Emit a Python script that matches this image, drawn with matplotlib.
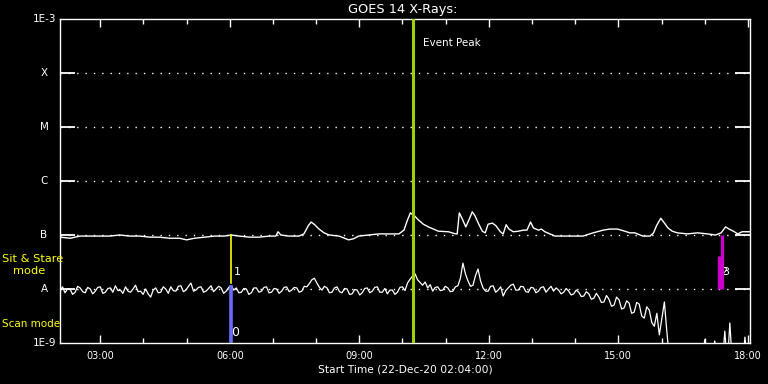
import numpy as np
import matplotlib
matplotlib.use("Agg")
import matplotlib.pyplot as plt
from matplotlib.ticker import FixedLocator, FuncFormatter, NullFormatter

# ---------------- data ----------------
title = "GOES 14 X-Rays:"
xlabel = "Start Time (22-Dec-20 02:04:00)"
start_hour = 2 + 4 / 60.0
end_hour = 18 + 3 / 60.0

# Long channel (upper curve): time "HH:MM", log10 flux (W/m^2)
upper_time = ["02:04", "02:18", "02:32", "02:46", "02:59", "03:13", "03:27", "03:41", "03:55",
              "04:09", "04:22", "04:36", "04:50", "05:00", "05:11", "05:25", "05:39", "05:52",
              "06:02", "06:13", "06:27", "06:41", "06:55", "07:04", "07:07", "07:11", "07:22",
              "07:36", "07:43", "07:49", "07:53", "07:58", "08:04", "08:11", "08:18", "08:32",
              "08:45", "08:52", "08:59", "09:13", "09:27", "09:41", "09:55", "10:02", "10:07",
              "10:11", "10:17", "10:22", "10:29", "10:36", "10:43", "10:50", "11:04", "11:14",
              "11:16", "11:19", "11:23", "11:28", "11:33", "11:37", "11:41", "11:46", "11:51",
              "11:55", "11:59", "12:05", "12:10", "12:16", "12:20", "12:24", "12:28", "12:34",
              "12:41", "12:48", "12:53", "12:58", "13:02", "13:09", "13:13", "13:18", "13:25",
              "13:32", "13:43", "13:57", "14:11", "14:25", "14:39", "14:48", "14:59", "15:09",
              "15:16", "15:23", "15:34", "15:44", "15:49", "15:53", "15:59", "16:03", "16:09",
              "16:15", "16:22", "16:36", "16:50", "17:04", "17:15", "17:23", "17:29", "17:34",
              "17:40", "17:46", "17:52", "18:03"]
upper_logflux = [-7.04, -7.06, -7.02, -7.02, -7.02, -7.02, -7.00, -7.02, -7.02,
                 -7.04, -7.04, -7.06, -7.06, -7.09, -7.06, -7.04, -7.02, -7.02,
                 -7.00, -7.02, -7.04, -7.04, -7.02, -7.02, -6.94, -7.00, -7.02,
                 -7.02, -6.98, -6.83, -6.76, -6.81, -6.89, -6.96, -7.00, -7.02,
                 -7.09, -7.07, -7.02, -7.00, -6.98, -6.98, -6.98, -6.91, -6.72,
                 -6.59, -6.65, -6.72, -6.80, -6.85, -6.89, -6.93, -6.94, -6.98,
                 -6.98, -6.59, -6.70, -6.85, -6.70, -6.57, -6.65, -6.80, -6.93,
                 -6.96, -6.80, -6.78, -6.83, -6.94, -6.98, -6.81, -6.89, -6.94,
                 -6.93, -6.91, -6.91, -6.76, -6.87, -6.91, -6.89, -6.94, -6.98,
                 -7.02, -7.02, -7.02, -7.02, -6.96, -6.91, -6.89, -6.89, -6.93,
                 -6.96, -6.96, -7.02, -7.02, -6.96, -6.83, -6.69, -6.76, -6.87,
                 -6.93, -6.96, -6.98, -6.96, -6.98, -7.00, -6.96, -6.85, -6.89,
                 -6.93, -6.98, -6.94, -6.94]

# Short channel (lower curve): 3.5-minute cadence from 02:04, log10 flux (W/m^2)
lower_cadence_min = 3.5
lower_logflux = [
    -8.04, -7.96, -8.07, -8.00, -8.00, -8.10, -8.06, -7.95, -7.98, -8.05,
    -8.07, -7.97, -8.00, -8.09, -8.04, -7.97, -7.96, -8.08, -8.06, -7.99,
    -7.98, -8.06, -7.94, -8.03, -8.02, -8.08, -7.96, -8.04, -8.06, -8.00,
    -7.93, -8.05, -8.04, -8.10, -8.00, -8.09, -8.15, -8.02, -7.98, -8.07,
    -8.06, -7.96, -8.00, -8.08, -7.96, -8.03, -8.04, -7.95, -7.94, -8.05,
    -8.02, -7.95, -7.89, -8.04, -8.02, -7.97, -7.96, -8.06, -8.04, -7.99,
    -7.94, -8.05, -8.00, -7.95, -7.98, -8.08, -8.04, -7.97, -7.94, -8.02,
    -7.98, -8.07, -8.06, -7.99, -8.00, -8.10, -8.07, -7.98, -7.98, -8.06,
    -8.04, -7.97, -7.96, -8.07, -8.06, -7.99, -8.00, -8.08, -8.04, -7.97,
    -7.96, -8.05, -8.02, -7.97, -7.98, -8.06, -8.04, -7.95, -7.96, -7.90,
    -7.83, -7.80, -7.89, -7.97, -8.02, -7.95, -7.98, -8.07, -8.06, -7.98,
    -7.96, -8.05, -8.07, -7.99, -8.00, -8.10, -8.09, -8.01, -8.02, -8.11,
    -8.07, -7.99, -7.98, -8.07, -8.04, -7.97, -7.96, -8.06, -8.06, -7.99,
    -8.09, -8.02, -8.02, -8.10, -8.06, -7.97, -7.96, -8.03, -7.89, -7.82,
    -7.76, -7.72, -7.83, -7.88, -7.93, -7.87, -7.98, -7.92, -8.04, -7.97,
    -7.96, -8.03, -8.02, -7.95, -7.98, -8.05, -8.04, -7.96, -7.94, -7.80,
    -7.52, -7.72, -7.85, -7.95, -7.93, -7.75, -7.63, -7.85, -7.98, -8.04,
    -8.04, -7.95, -7.94, -8.06, -8.02, -7.96, -8.13, -8.03, -7.98, -7.93,
    -7.91, -8.02, -8.02, -7.95, -7.96, -8.05, -8.06, -7.97, -7.98, -8.07,
    -8.04, -7.97, -7.96, -8.06, -8.00, -7.95, -8.04, -7.98, -8.02, -8.09,
    -8.06, -7.99, -8.04, -8.11, -8.09, -8.02, -8.06, -8.14, -8.13, -8.05,
    -8.09, -8.19, -8.17, -8.08, -8.15, -8.25, -8.24, -8.12, -8.19, -8.32,
    -8.30, -8.15, -8.20, -8.37, -8.35, -8.22, -8.26, -8.45, -8.43, -8.25,
    -8.28, -8.50, -8.54, -8.33, -8.39, -8.62, -8.69, -8.45, -8.85, -8.55,
    -8.24, -8.80, -9.30, -9.40, -9.40, -9.40, -9.40, -9.40, -9.40, -9.40,
    -9.40, -9.40, -9.40, -9.40, -9.40, -9.40, -8.94, -9.40, -9.40, -9.40,
    -8.96, -9.40, -9.40, -9.40, -8.78, -9.40, -8.63, -9.40, -9.40, -9.40,
    -9.40, -9.40, -8.89, -9.40, -9.40]

# GOES class levels
class_labels = ["A", "B", "C", "M", "X"]
class_levels = [1e-8, 1e-7, 1e-6, 1e-5, 1e-4]
ymin, ymax = 1e-9, 1e-3

# Event / mode markers
event_peak_time = "10:15"
mode1_time = "06:02"     # sit & stare (yellow, "1")
mode0_time = "06:01"     # scan mode (blue, "0")
mode23_time = "17:22"    # magenta ("2"/"3")

xticks_major = [3, 6, 9, 12, 15, 18]
xticks_minor = list(range(3, 19))


def hhmm(s):
    h, m = s.split(":")
    return int(h) + int(m) / 60.0


# ---------------- plot ----------------
W, H = 768, 384
fig = plt.figure(figsize=(W / 100, H / 100), dpi=100, facecolor="black")
L, R, T, B = 60, 750, 19, 343
ax = fig.add_axes([L / W, 1 - B / H, (R - L) / W, (B - T) / H], facecolor="black")
ax.set_yscale("log")
ax.set_xlim(start_hour, end_hour)
ax.set_ylim(ymin, ymax)

for s in ax.spines.values():
    s.set_color("white")
    s.set_linewidth(1.0)

# dotted class grid lines + short solid ticks at both sides
for lv in class_levels:
    ax.axhline(lv, color="white", lw=1.0, ls=(0, (1, 5)), zorder=1)
ax.set_yticks(class_levels)
ax.yaxis.set_minor_locator(FixedLocator([]))
ax.tick_params(axis="y", which="major", direction="in", length=11, width=1.3,
               colors="white", left=True, right=True, labelleft=False)

ax.xaxis.set_major_locator(FixedLocator(xticks_major))
ax.xaxis.set_minor_locator(FixedLocator(xticks_minor))
ax.xaxis.set_major_formatter(FuncFormatter(lambda v, p: "%02d:00" % int(round(v))))
ax.xaxis.set_minor_formatter(NullFormatter())
ax.tick_params(axis="x", which="major", direction="in", length=6, width=1.0,
               colors="white", top=True, bottom=True, labelsize=7, pad=6)
ax.tick_params(axis="x", which="minor", direction="in", length=3.5, width=1.0,
               colors="white", top=True, bottom=True)

# data curves
ut = np.array([hhmm(s) for s in upper_time])
uf = 10 ** np.array(upper_logflux)
lt = start_hour + np.arange(len(lower_logflux)) * lower_cadence_min / 60.0
lf = 10 ** np.array(lower_logflux)
ax.plot(ut, uf, color="white", lw=1.0, zorder=3)
ax.plot(lt, lf, color="white", lw=0.9, zorder=3)

# event peak
ep = hhmm(event_peak_time)
ax.axvline(ep, color="#a0d000", lw=2.2, zorder=4)
ax.text(ep + 0.23, 10 ** (-3 - 24 / 54), "Event Peak", color="white", fontsize=7.5,
        va="center", ha="left")

# mode markers
m1 = hhmm(mode1_time)
ax.plot([m1, m1], [10 ** (-8 + 6 / 54), 1e-7], color="yellow", lw=1.2, zorder=4)
ax.text(m1 + 0.05, 10 ** (-8 + 17 / 54), "1", color="white", fontsize=8, va="center", ha="left")
m0 = hhmm(mode0_time)
ax.plot([m0, m0], [ymin, 10 ** (-8 + 4 / 54)], color="#6a6aff", lw=2.6, zorder=4,
        solid_capstyle="butt")
ax.text(m0 + 0.02, 10 ** (-9 + 10 / 54), "0", color="white", fontsize=9, va="center", ha="left")
m23 = hhmm(mode23_time)
ax.plot([m23 + 0.03, m23 + 0.03], [1e-8, 1e-7], color="#cc00cc", lw=2.4, zorder=4,
        solid_capstyle="butt")
ax.plot([m23 - 0.03, m23 - 0.03], [1e-8, 10 ** (-8 + 33 / 54)], color="#cc00cc", lw=2.4,
        zorder=4, solid_capstyle="butt")
ax.text(m23 - 0.01, 10 ** (-8 + 17 / 54), "2", color="white", fontsize=8, va="center", ha="left")
ax.text(m23 + 0.04, 10 ** (-8 + 17 / 54), "3", color="white", fontsize=8, va="center", ha="left")


# left labels
def fx(px):
    return px / W


def fy(py):
    return 1 - py / H


fig.text(fx(56), fy(T), "1E-3", color="white", fontsize=7.5, ha="right", va="center")
fig.text(fx(56), fy(B), "1E-9", color="white", fontsize=7.5, ha="right", va="center")
for lab, lv in zip(class_labels, class_levels):
    py = B - (np.log10(lv) - np.log10(ymin)) * (B - T) / 6
    fig.text(fx(44), fy(py), lab, color="white", fontsize=7.5, ha="center", va="center")
fig.text(fx(2), fy(259), "Sit & Stare", color="yellow", fontsize=8.2, ha="left", va="center")
fig.text(fx(13), fy(271), "mode", color="yellow", fontsize=8.2, ha="left", va="center")
fig.text(fx(2), fy(324), "Scan mode", color="yellow", fontsize=7.5, ha="left", va="center")

fig.text(fx(403), fy(10), title, color="white", fontsize=9.3, ha="center", va="center")
fig.text(fx(405), fy(369), xlabel, color="white", fontsize=7.7, ha="center", va="center")

fig.savefig("out.png", dpi=100, facecolor="black")
